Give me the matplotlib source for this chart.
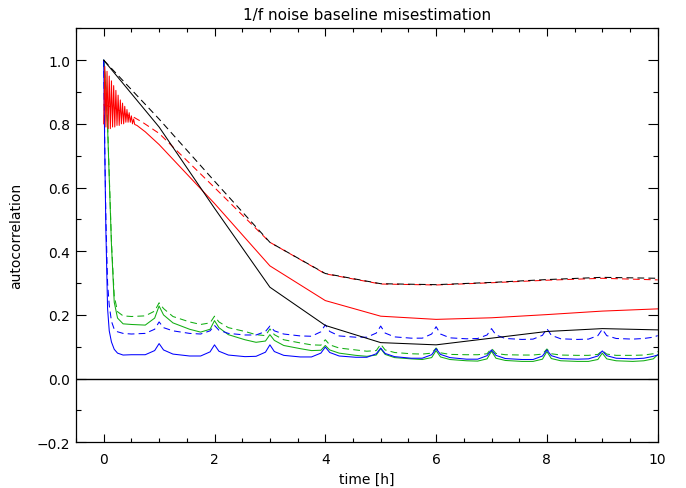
import matplotlib
matplotlib.use("Agg")
import matplotlib.pyplot as plt
from matplotlib.ticker import MultipleLocator

# ---------------- data ----------------
# smooth curves (knots at integer hours)
T_SMOOTH = [0, 1, 2, 3, 4, 5, 6, 7, 8, 9, 10]
black_solid = [1.0, 0.79, 0.535, 0.287, 0.167, 0.113, 0.106, 0.127, 0.148, 0.157, 0.153]
black_dashed = [1.0, 0.815, 0.62, 0.428, 0.33, 0.298, 0.295, 0.302, 0.311, 0.318, 0.315]

T_RED_DASHED = [0.0, 0.2, 0.4, 0.55, 0.7, 1.0, 2.0, 3.0, 4.0, 5.0, 6.0, 7.0, 8.0, 9.0, 10.0]
red_dashed = [0.86, 0.85, 0.83, 0.82, 0.805, 0.77, 0.60, 0.428, 0.329, 0.297, 0.294,
              0.301, 0.309, 0.315, 0.31]

T_RED = [0.00, 0.02, 0.04, 0.06, 0.08, 0.10, 0.12, 0.14, 0.16, 0.18,
         0.20, 0.22, 0.24, 0.26, 0.28, 0.30, 0.32, 0.34, 0.36, 0.38,
         0.40, 0.42, 0.44, 0.46, 0.48, 0.50, 0.52, 0.54, 0.56,
         0.6, 0.75, 1.0, 2.0, 3.0, 4.0, 5.0, 6.0, 7.0, 8.0, 9.0, 10.0]
red_solid = [0.80, 0.98, 0.79, 0.965, 0.785, 0.95, 0.785, 0.935, 0.79, 0.92,
             0.79, 0.905, 0.795, 0.89, 0.795, 0.875, 0.80, 0.865, 0.80, 0.855,
             0.805, 0.845, 0.805, 0.835, 0.805, 0.825, 0.80, 0.815, 0.798,
             0.795, 0.775, 0.735, 0.550, 0.354, 0.245, 0.196, 0.186, 0.191, 0.201, 0.212, 0.219]

# bumpy curves (shared time grid)
T_BUMP = [0, 0.02, 0.04, 0.07, 0.1, 0.14, 0.19, 0.25, 0.35, 0.5,
          0.75, 0.92, 1.0, 1.08, 1.25, 1.55,
          1.75, 1.92, 2.0, 2.08, 2.25, 2.55,
          2.75, 2.92, 3.0, 3.08, 3.25, 3.55,
          3.75, 3.92, 4.0, 4.08, 4.25, 4.55,
          4.75, 4.92, 5.0, 5.08, 5.25, 5.55,
          5.75, 5.92, 6.0, 6.08, 6.25, 6.55,
          6.75, 6.92, 7.0, 7.08, 7.25, 7.55,
          7.75, 7.92, 8.0, 8.08, 8.25, 8.55,
          8.75, 8.92, 9.0, 9.08, 9.25, 9.55,
          9.75, 9.92, 10.0]

blue_solid = [1.0, 0.70, 0.46, 0.22, 0.15, 0.115, 0.092, 0.080, 0.074, 0.075,
              0.075, 0.088, 0.110, 0.090, 0.077, 0.071,
              0.071, 0.084, 0.106, 0.086, 0.074, 0.069,
              0.070, 0.083, 0.106, 0.085, 0.073, 0.068,
              0.068, 0.080, 0.099, 0.082, 0.071, 0.067,
              0.067, 0.078, 0.096, 0.079, 0.069, 0.064,
              0.064, 0.075, 0.094, 0.076, 0.066, 0.061,
              0.061, 0.072, 0.090, 0.073, 0.063, 0.060,
              0.060, 0.071, 0.090, 0.072, 0.063, 0.061,
              0.062, 0.071, 0.087, 0.072, 0.064, 0.062,
              0.064, 0.070, 0.074]

blue_dashed = [1.0, 0.72, 0.50, 0.30, 0.23, 0.18, 0.155, 0.147, 0.142, 0.140,
               0.142, 0.155, 0.178, 0.160, 0.150, 0.142,
               0.140, 0.150, 0.167, 0.152, 0.142, 0.137,
               0.137, 0.148, 0.165, 0.150, 0.140, 0.134,
               0.133, 0.147, 0.169, 0.148, 0.134, 0.130,
               0.130, 0.143, 0.165, 0.143, 0.131, 0.127,
               0.127, 0.140, 0.163, 0.140, 0.128, 0.125,
               0.126, 0.137, 0.157, 0.137, 0.126, 0.123,
               0.124, 0.136, 0.157, 0.136, 0.125, 0.123,
               0.124, 0.135, 0.155, 0.135, 0.126, 0.124,
               0.126, 0.130, 0.135]

green_solid = [1.0, 0.96, 0.90, 0.79, 0.63, 0.42, 0.24, 0.19, 0.172, 0.170,
               0.168, 0.19, 0.228, 0.20, 0.175, 0.155,
               0.146, 0.155, 0.182, 0.160, 0.138, 0.122,
               0.114, 0.118, 0.138, 0.120, 0.104, 0.094,
               0.088, 0.089, 0.104, 0.090, 0.080, 0.073,
               0.070, 0.074, 0.094, 0.076, 0.066, 0.062,
               0.060, 0.066, 0.088, 0.068, 0.060, 0.056,
               0.055, 0.062, 0.086, 0.064, 0.057, 0.054,
               0.054, 0.061, 0.085, 0.063, 0.056, 0.054,
               0.054, 0.060, 0.080, 0.062, 0.056, 0.054,
               0.056, 0.062, 0.075]

green_dashed = [1.0, 0.96, 0.90, 0.80, 0.64, 0.43, 0.26, 0.21, 0.197, 0.195,
                0.197, 0.212, 0.238, 0.22, 0.195, 0.178,
                0.170, 0.175, 0.196, 0.178, 0.160, 0.148,
                0.138, 0.135, 0.156, 0.138, 0.122, 0.112,
                0.106, 0.105, 0.122, 0.106, 0.096, 0.090,
                0.086, 0.088, 0.108, 0.090, 0.082, 0.078,
                0.077, 0.080, 0.096, 0.081, 0.076, 0.075,
                0.075, 0.078, 0.095, 0.079, 0.075, 0.074,
                0.074, 0.077, 0.093, 0.078, 0.074, 0.073,
                0.073, 0.076, 0.088, 0.077, 0.073, 0.073,
                0.074, 0.078, 0.085]

TITLE = "1/f noise baseline misestimation"
XLABEL = "time [h]"
YLABEL = "autocorrelation"

# ---------------- plot ----------------
plt.rcParams['font.family'] = ['DejaVu Sans']
fig = plt.figure(figsize=(6.86, 4.89), dpi=100)
ax = fig.add_axes([76/686, 1 - 443.3/489, (657.7 - 76)/686, (443.3 - 29.3)/489])

GREEN = '#12ae12'
dash = (0, (6.5, 4))
lw = 0.75

ax.axhline(0.0, color='black', lw=1.0)
ax.plot(T_BUMP, green_dashed, color=GREEN, lw=lw, linestyle=dash)
ax.plot(T_BUMP, green_solid, color=GREEN, lw=lw)
ax.plot(T_BUMP, blue_dashed, color='blue', lw=lw, linestyle=dash)
ax.plot(T_BUMP, blue_solid, color='blue', lw=lw)
ax.plot(T_RED_DASHED, red_dashed, color='red', lw=lw, linestyle=dash)
ax.plot(T_RED, red_solid, color='red', lw=lw)
ax.plot(T_SMOOTH, black_dashed, color='black', lw=lw, linestyle=dash)
ax.plot(T_SMOOTH, black_solid, color='black', lw=lw)

ax.set_xlim(-0.5, 10)
ax.set_ylim(-0.2, 1.1)
ax.xaxis.set_major_locator(MultipleLocator(2))
ax.xaxis.set_minor_locator(MultipleLocator(0.5))
ax.yaxis.set_major_locator(MultipleLocator(0.2))
ax.yaxis.set_minor_locator(MultipleLocator(0.1))
ax.xaxis.set_major_formatter(plt.FuncFormatter(lambda v, p: f"{v:.0f}"))
ax.yaxis.set_major_formatter(plt.FuncFormatter(lambda v, p: f"{v:.1f}".replace("-", "\u2212")))

ax.tick_params(which='both', direction='in', top=True, right=True, width=0.8, colors='black',
               labelsize=10)
ax.tick_params(axis='x', which='major', length=5.5, pad=7)
ax.tick_params(axis='x', which='minor', length=3)
ax.tick_params(axis='y', which='major', length=7.2, pad=4)
ax.tick_params(axis='y', which='minor', length=3.8)
for s in ax.spines.values():
    s.set_linewidth(0.9)

ax.set_title(TITLE, fontsize=11, pad=7)
ax.set_xlabel(XLABEL, fontsize=10, labelpad=4)
ax.set_ylabel(YLABEL, fontsize=10, labelpad=10)

fig.savefig("out.png", dpi=100)
